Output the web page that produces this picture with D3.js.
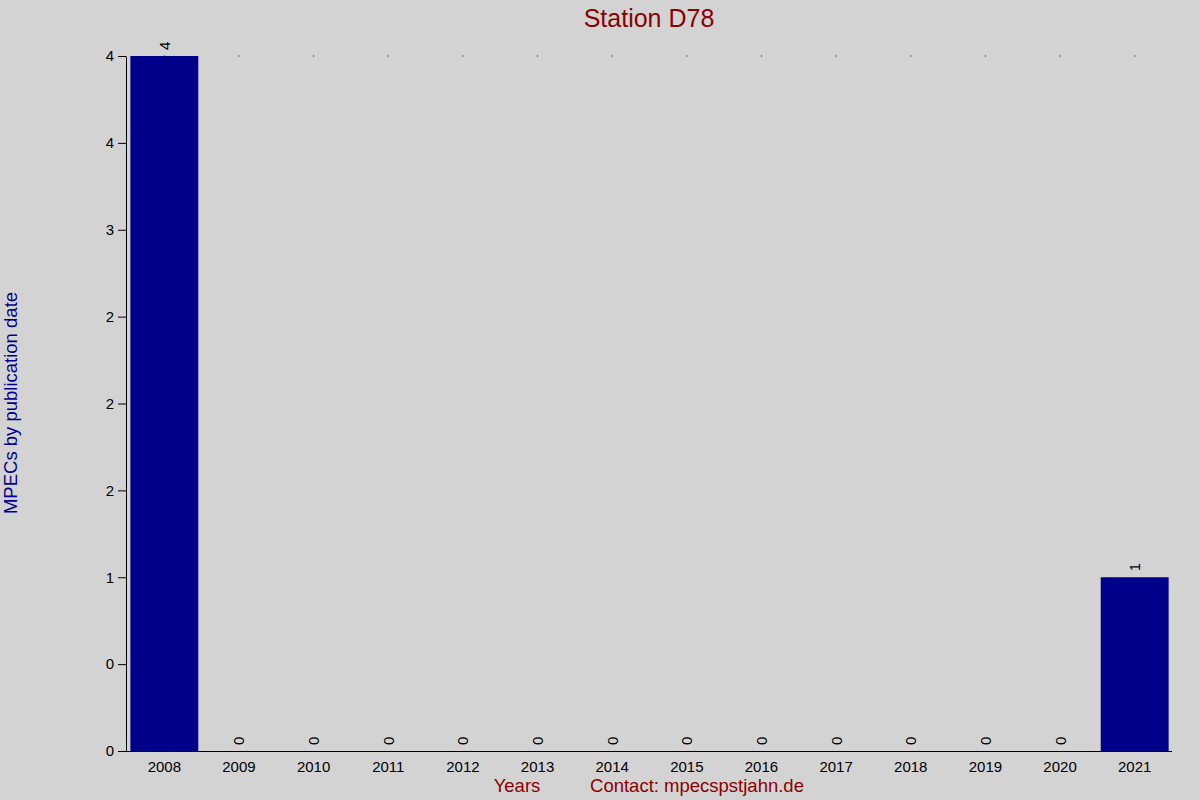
<!DOCTYPE html>
<html>
<head>
<meta charset="utf-8">
<script src="https://cdn.jsdelivr.net/npm/d3@7"></script>
<style>
  body { margin: 0; background: #d3d3d3; }
  text { font-family: "Liberation Sans", Arial, sans-serif; }
</style>
</head>
<body>
<div id="chart-area"></div>
<script>
// data
const years = ["2008", "2009", "2010", "2011", "2012", "2013", "2014",
    "2015", "2016", "2017", "2018", "2019", "2020", "2021"]
const counts = [4, 0, 0, 0, 0, 0, 0, 0, 0, 0, 0, 0, 0, 1]
const yTicks = [0, 0.5, 1, 1.5, 2, 2.5, 3, 3.5, 4]
const yTickLabels = ["0", "0", "1", "2", "2", "2", "3", "4", "4"]

const width = 1200, height = 800

const svg = d3.select("#chart-area").append("svg")
    .attr("width", width)
    .attr("height", height)
    .style("background", "#d3d3d3")

const x = d3.scaleBand()
    .domain(years)
    .range([127, 1172])
    .paddingInner(0.09)
    .paddingOuter(0.045)

const y = d3.scaleLinear()
    .domain([0, 4])
    .range([751, 56])

// title
svg.append("text")
    .attr("x", 649)
    .attr("y", 27)
    .attr("text-anchor", "middle")
    .attr("font-size", 25)
    .attr("fill", "#8b0000")
    .text("Station D78")

// bars
svg.selectAll("rect.bar")
    .data(counts)
    .enter().append("rect")
    .attr("class", "bar")
    .attr("x", (d, i) => x(years[i]))
    .attr("y", d => y(d))
    .attr("width", x.bandwidth())
    .attr("height", d => y(0) - y(d))
    .attr("fill", "#00008b")

// tiny dots at top of each category
svg.selectAll("rect.dot")
    .data(years)
    .enter().append("rect")
    .attr("class", "dot")
    .attr("x", d => x(d) + x.bandwidth() / 2 - 0.5)
    .attr("y", y(4) - 0.5)
    .attr("width", 1)
    .attr("height", 1)
    .attr("fill", "#000")

// value labels
svg.selectAll("text.val")
    .data(counts)
    .enter().append("text")
    .attr("class", "val")
    .attr("transform", (d, i) =>
        "translate(" + (x(years[i]) + x.bandwidth() / 2 + 5.5) + "," + (y(d) - 6) + ") rotate(-90)")
    .attr("font-size", 15)
    .attr("fill", "#000")
    .text(d => d)

// y axis
const yAxis = d3.axisLeft(y)
    .tickValues(yTicks)
    .tickFormat((d, i) => yTickLabels[i])
    .tickSize(8)
    .tickSizeOuter(0)

const yG = svg.append("g")
    .attr("transform", "translate(126,0)")
    .call(yAxis)
yG.select(".domain").attr("stroke", "#000")
yG.selectAll("text")
    .attr("font-size", 15)
    .attr("font-family", "Liberation Sans, Arial, sans-serif")
    .attr("fill", "#000")
    .attr("dx", -1)

// x axis
const xAxis = d3.axisBottom(x)
    .tickSize(0)
    .tickSizeOuter(0)
const xG = svg.append("g")
    .attr("transform", "translate(0,751)")
    .call(xAxis)
xG.select(".domain").attr("d", "M118,0.5H1172").attr("stroke", "#000")
xG.selectAll("text")
    .attr("font-size", 15)
    .attr("font-family", "Liberation Sans, Arial, sans-serif")
    .attr("fill", "#000")
    .attr("dy", "1.2em")

// axis titles
svg.append("text")
    .attr("transform", "translate(17,403) rotate(-90)")
    .attr("text-anchor", "middle")
    .attr("font-size", 18.5)
    .attr("fill", "#00008b")
    .text("MPECs by publication date")

svg.append("text")
    .attr("x", 517)
    .attr("y", 792)
    .attr("text-anchor", "middle")
    .attr("font-size", 18.5)
    .attr("fill", "#8b0000")
    .text("Years")

svg.append("text")
    .attr("x", 697)
    .attr("y", 792)
    .attr("text-anchor", "middle")
    .attr("font-size", 18.5)
    .attr("fill", "#8b0000")
    .text("Contact: mpecspstjahn.de")
</script>
</body>
</html>
